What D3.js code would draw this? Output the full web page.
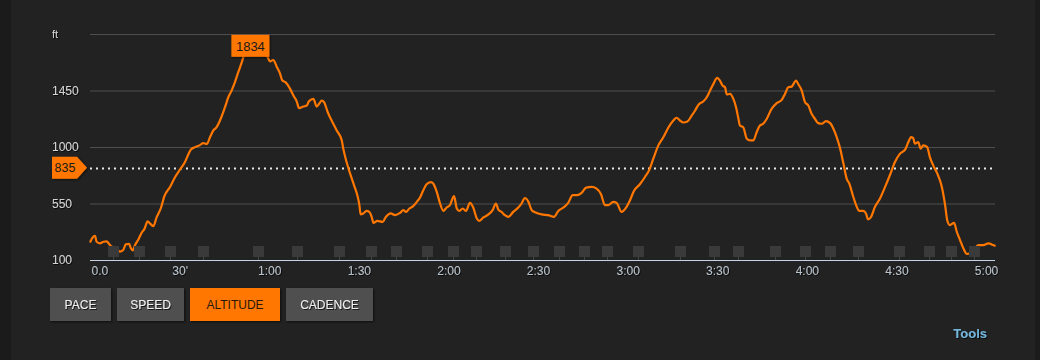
<!DOCTYPE html>
<html>
<head>
<meta charset="utf-8">
<script src="https://cdn.jsdelivr.net/npm/d3@7"></script>
<style>
  html, body { margin: 0; padding: 0; background: #1b1b1b; }
  svg { display: block; }
  text { font-family: "Liberation Sans", Arial, sans-serif; }
</style>
</head>
<body>
<svg id="chart" width="1040" height="360"></svg>
<script>
// ---- data ----
const timeMin = [0,1.1,1.7,2.2,3.3,4.5,5.6,6.4,7.3,8.9,10.0,11.1,12.0,13.1,13.7,14.3,15.1,16.2,17.3,18.2,19.3,20.3,21.2,22.3,23.8,24.9,26.8,28.5,30.1,31.8,32.9,33.8,35.2,36.8,37.9,39.1,40.2,41.3,42.4,43.9,45.2,46.3,47.4,48.5,49.7,50.8,52.2,53.7,55.2,56.9,58.3,59.5,60.3,61.4,62.5,63.6,64.4,65.5,67.0,68.1,69.2,70.0,71.4,72.6,73.3,74.8,75.9,76.7,77.6,78.4,79.6,80.9,82.6,84.3,84.8,85.9,87.1,88.4,89.5,90.2,90.6,91.5,92.6,93.5,94.3,94.9,96.2,98.0,99.1,100.7,102.1,103.8,104.9,105.8,106.9,108.2,109.4,110.5,111.6,112.7,114.1,114.9,116.1,117.2,118.3,119.4,120.5,121.9,122.8,123.6,124.8,125.9,127.2,128.3,129.5,130.3,131.7,133.4,134.8,135.9,136.7,137.8,138.9,140.1,141.7,143.4,144.5,145.6,146.8,147.9,149.6,151.2,153.4,155.4,156.8,158.5,160.1,161.6,163.0,164.6,166.1,168.0,169.6,171.1,172.4,173.5,175.2,176.3,178.0,179.5,180.8,182.1,184.1,185.8,187.3,188.6,190.3,192.0,193.6,195.3,196.4,197.5,198.6,200.0,201.5,202.6,203.7,205.3,206.5,207.6,208.7,210.0,210.9,211.8,212.6,213.2,214.3,215.4,216.3,217.1,217.6,218.7,219.9,221.0,222.1,223.2,224.3,225.4,226.6,228.2,229.9,231.6,232.7,233.8,234.9,236.4,237.1,238.3,239.4,240.5,241.6,242.7,243.8,245.0,246.4,247.8,248.9,250.0,251.1,252.2,253.4,254.2,255.4,256.5,257.6,258.9,259.8,260.5,261.4,262.8,264.5,266.2,267.8,269.5,271.2,272.9,274.0,274.9,275.6,276.2,277.3,278.1,279.0,280.3,281.2,282.3,283.7,285.2,286.3,287.0,287.9,289.3,290.2,291.3,292.4,293.6,294.7,296.0,297.4,299.1,300.8,302.4,303.2];
const altitudeFt = [240,285,293,245,233,245,248,227,206,193,166,179,225,229,193,177,219,264,317,346,407,386,370,439,518,608,682,761,820,880,941,981,999,1015,1031,1023,1079,1132,1158,1233,1317,1396,1449,1515,1600,1674,1783,1834,1826,1814,1767,1714,1682,1693,1640,1587,1529,1515,1463,1410,1364,1309,1322,1330,1364,1383,1322,1344,1370,1356,1277,1211,1132,1052,987,880,788,695,616,537,463,471,491,483,444,396,412,404,444,471,457,475,497,483,510,529,563,598,656,703,721,709,642,550,491,518,537,608,510,491,510,491,555,518,431,412,439,463,497,550,502,483,457,444,483,518,550,594,563,497,475,463,457,444,491,518,555,616,616,634,677,682,669,624,537,537,563,555,483,518,576,650,703,761,820,907,1013,1079,1153,1211,1233,1211,1195,1203,1251,1291,1336,1362,1396,1449,1502,1550,1529,1489,1476,1418,1423,1383,1317,1225,1171,1158,1066,1052,1052,1118,1171,1185,1225,1304,1349,1375,1423,1476,1481,1529,1502,1449,1356,1330,1264,1225,1190,1185,1206,1190,1145,1079,993,874,744,709,616,537,491,491,471,423,439,523,590,682,775,880,947,979,1039,1079,1071,1026,1039,987,1013,999,920,854,788,682,537,417,378,396,325,259,193,148,153,179,219,219,233,219,211];
const markerMin = [7.7,16.5,26.9,37.9,56.3,69.4,83.2,94.2,102.5,112.9,121.7,129.3,139.0,148.4,157.1,165.5,173.2,183.6,197.6,209.0,217.0,229.4,239.5,247.8,257.2,270.9,281.0,288.3,296.0];
const yTickValues = [100, 550, 1000, 1450, 1900];
const yTickLabels = ["100", "550", "1000", "1450", "ft"];
const xTickMin = [0, 30, 60, 90, 120, 150, 180, 210, 240, 270, 300];
const xTickLabels = ["0.0", "30'", "1:00", "1:30", "2:00", "2:30", "3:00", "3:30", "4:00", "4:30", "5:00"];
const avgAltitude = 835;
const buttonLabels = ["PACE", "SPEED", "ALTITUDE", "CADENCE"];
const activeButton = "ALTITUDE";

// ---- layout ----
const svg = d3.select("#chart");
const W = 1040, H = 360;
const plot = { left: 90, right: 995, top: 34, bottom: 260 };
const orange = "#ff7700";
const buttonWidths = [61, 67, 90, 87];

svg.append("rect").attr("x", 11).attr("y", 0).attr("width", 1024).attr("height", H).attr("fill", "#222222");

const x = d3.scaleLinear().domain([0, 303]).range([plot.left, plot.right]);
const y = d3.scaleLinear().domain([100, 1900]).range([plot.bottom, plot.top]);

const defs = svg.append("defs");
const sh = defs.append("filter").attr("id", "shadow").attr("x", "-20%").attr("y", "-20%").attr("width", "140%").attr("height", "160%");
sh.append("feDropShadow").attr("dx", 1).attr("dy", 1).attr("stdDeviation", 1).attr("flood-color", "#000").attr("flood-opacity", 0.6);
const tsh = defs.append("filter").attr("id", "tshadow");
tsh.append("feDropShadow").attr("dx", 1).attr("dy", 1).attr("stdDeviation", 0).attr("flood-color", "#000").attr("flood-opacity", 0.7);

// grid lines
const yAxis = d3.axisLeft(y).tickValues(yTickValues).tickSize(-(plot.right - plot.left)).tickFormat((d, i) => yTickLabels[i]);
const gy = svg.append("g").attr("transform", `translate(${plot.left},0)`).call(yAxis);
gy.select(".domain").remove();
gy.selectAll(".tick line").attr("stroke", "#4e4e4e").attr("stroke-width", 1)
  .filter(d => d === 100).remove();
gy.selectAll(".tick text")
  .attr("x", -38).attr("text-anchor", "start")
  .attr("fill", "#d4d4d4")
  .attr("filter", "url(#tshadow)")
  .attr("dy", d => d === 1900 ? "3.5px" : "0.32em")
  .attr("font-size", d => d === 1900 ? 11 : 12);

// average dotted line
svg.append("line")
  .attr("x1", plot.left).attr("x2", plot.right)
  .attr("y1", Math.round(y(avgAltitude)) + 0.5).attr("y2", Math.round(y(avgAltitude)) + 0.5)
  .attr("stroke", "#e8e8e8").attr("stroke-width", 2)
  .attr("stroke-dasharray", "2,4");

// altitude line
const data = timeMin.map((t, i) => ({ t, v: altitudeFt[i] }));
const line = d3.line().x(d => x(d.t)).y(d => y(d.v)).curve(d3.curveMonotoneX);
svg.append("path").datum(data)
  .attr("d", line).attr("fill", "none")
  .attr("stroke", orange).attr("stroke-width", 2.2).attr("stroke-linejoin", "round");

// marker squares
const mg = svg.append("g");
mg.selectAll("line").data(markerMin).join("line")
  .attr("x1", d => Math.round(x(d)) + 0.5).attr("x2", d => Math.round(x(d)) + 0.5)
  .attr("y1", 256).attr("y2", plot.bottom).attr("stroke", "#444");
mg.selectAll("rect").data(markerMin).join("rect")
  .attr("x", d => Math.round(x(d)) - 5).attr("y", 246)
  .attr("width", 11).attr("height", 11).attr("fill", "#3a3a3a");

// x axis
const xAxis = d3.axisBottom(x).tickValues(xTickMin).tickSize(0).tickFormat((d, i) => xTickLabels[i]);
const gx = svg.append("g").attr("transform", `translate(0,${plot.bottom})`).call(xAxis);
gx.select(".domain").attr("stroke", "#c4d4e4").attr("stroke-width", 1)
  .attr("d", `M${plot.left},0.5H${plot.right}`);
gx.selectAll(".tick text")
  .attr("y", 14.5).attr("dy", 0)
  .attr("fill", "#b9c3cc").attr("font-size", 12)
  .attr("filter", "url(#tshadow)")
  .attr("text-anchor", (d, i) => i === 0 ? "start" : "middle")
  .attr("x", (d, i) => i === 0 ? 1 : 0);

// average flag marker
const ay = y(avgAltitude);
svg.append("path")
  .attr("d", `M52,${ay - 11}H77L87,${ay}L77,${ay + 11}H52Z`)
  .attr("fill", orange).attr("filter", "url(#shadow)");
svg.append("text").attr("x", 65).attr("y", ay + 4.5).attr("text-anchor", "middle")
  .attr("font-size", 12.5).attr("fill", "#1a1a1a").text(avgAltitude);

// max label
const maxIdx = d3.maxIndex(altitudeFt);
const mx = x(timeMin[maxIdx]), myv = y(altitudeFt[maxIdx]);
svg.append("rect").attr("x", mx - 19).attr("y", myv - 7.5).attr("width", 38).attr("height", 22)
  .attr("fill", orange).attr("filter", "url(#shadow)");
svg.append("text").attr("x", mx).attr("y", myv + 8.5).attr("text-anchor", "middle")
  .attr("font-size", 13).attr("fill", "#1a1a1a").text(altitudeFt[maxIdx]);

// buttons
let bx = 50;
buttonLabels.forEach((lbl, i) => {
  const g = svg.append("g");
  const active = lbl === activeButton;
  const bw = buttonWidths[i];
  g.append("rect").attr("x", bx).attr("y", 288).attr("width", bw).attr("height", 33)
    .attr("fill", active ? orange : "#505050").attr("filter", "url(#shadow)");
  g.append("text").attr("x", bx + bw / 2).attr("y", 309).attr("font-size", 12)
    .attr("fill", active ? "#2a1a0a" : "#f0f0f0")
    .attr("text-anchor", "middle")
    .attr("filter", active ? null : "url(#tshadow)")
    .text(lbl);
  bx += bw + 6;
});

// tools link
svg.append("text").attr("x", 987).attr("y", 337.5).attr("text-anchor", "end")
  .attr("font-size", 13).attr("font-weight", "bold").attr("fill", "#72b6dc")
  .attr("filter", "url(#tshadow)").text("Tools");
</script>
</body>
</html>
